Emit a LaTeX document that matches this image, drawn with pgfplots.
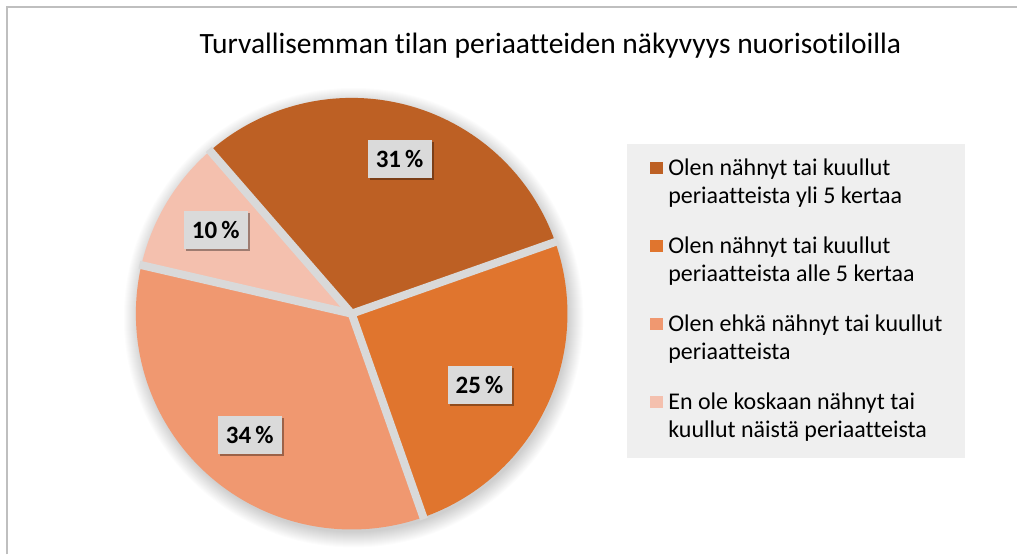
\documentclass[border=0pt]{standalone}
\usepackage{pgfplots}
\pgfplotsset{compat=1.18}
\usepackage{fontspec}
\setmainfont{Carlito}[Ligatures={NoCommon}]
\usetikzlibrary{shadows}
\definecolor{c1}{HTML}{BD6024}
\definecolor{c2}{HTML}{E0752E}
\definecolor{c3}{HTML}{F09870}
\definecolor{c4}{HTML}{F4C0AE}
\definecolor{sepgray}{HTML}{D9D9D9}
\definecolor{legbg}{HTML}{EFEFEF}
\definecolor{labbg}{HTML}{DADADA}
\definecolor{bordergray}{HTML}{BFBFBF}
% slice: start angle, percentage, colour
\newcommand{\slice}[3]{%
  \pgfmathsetmacro\endang{#1-3.6*#2}%
  \edef\temp{\noexpand\addplot[draw=none, fill=#3, domain=\endang:#1, samples=120, variable=\noexpand\t] ({352+216*cos(\noexpand\t)},{241+216*sin(\noexpand\t)}) -- (axis cs:352,241) -- cycle;}%
  \temp
}
\newcommand{\legtext}[2]{\parbox[t]{300bp}{\rule{0pt}{18bp}#1\\#2}}
\begin{document}
\begin{tikzpicture}
\begin{axis}[
  scale only axis, width=1018bp, height=555bp,
  xmin=0, xmax=1018, ymin=0, ymax=555,
  hide axis, clip=false,
  legend style={at={(axis cs:651,397)}, anchor=north west, fill=none, draw=none,
    inner sep=0pt, outer sep=0pt, column sep=5bp, row sep=58.5bp,
    font=\fontsize{24bp}{27.5bp}\selectfont,
    cells={anchor=base west}, nodes={inner sep=0pt}},
  legend image code/.code={\fill[#1, draw=none] (0bp,2bp) rectangle (13bp,14bp);},
]
% background and frame
\fill[white] (axis cs:0,0) rectangle (axis cs:1018,555);
\draw[bordergray, line width=2bp] (axis cs:7,0) -- (axis cs:7,548) -- (axis cs:1018,548);
% title
\node[anchor=base, font=\fontsize{29.5bp}{34bp}\selectfont] at (axis cs:551,501)
  {Turvallisemman tilan periaatteiden näkyvyys nuorisotiloilla};
% soft pie shadow
\pgfplotsinvokeforeach{1,...,16}{
  \fill[black, opacity=0.011] (axis cs:354,237) circle[radius=214bp+#1bp];
}
% legend background
\fill[legbg] (axis cs:628,97) rectangle (axis cs:966,411);
% pie slices (values in %)
\slice{131}{31}{c1}
\addlegendentry{\legtext{Olen nähnyt tai kuullut}{periaatteista yli 5 kertaa}}
\slice{19.4}{25}{c2}
\addlegendentry{\legtext{Olen nähnyt tai kuullut}{periaatteista alle 5 kertaa}}
\slice{-70.6}{34}{c3}
\addlegendentry{\legtext{Olen ehkä nähnyt tai kuullut}{periaatteista}}
\slice{-193}{10}{c4}
\addlegendentry{\legtext{En ole koskaan nähnyt tai}{kuullut näistä periaatteista}}
% separators
\pgfplotsinvokeforeach{131,19.4,-70.6,167}{
  \draw[sepgray, line width=8bp] (axis cs:352,241) -- (axis cs:{352+218*cos(#1)},{241+218*sin(#1)});
}
% data labels
\tikzset{lab/.style={fill=labbg, minimum width=64bp, minimum height=38bp, inner sep=0pt,
  font=\bfseries\fontsize{25bp}{29bp}\selectfont,
  drop shadow={shadow xshift=2.5bp, shadow yshift=-2.5bp, fill=black, opacity=0.35}}}
\node[lab] at (axis cs:400,396) {31\,\%};
\node[lab] at (axis cs:480,170) {25\,\%};
\node[lab] at (axis cs:250,120) {34\,\%};
\node[lab] at (axis cs:216,325) {10\,\%};
\end{axis}
\end{tikzpicture}
\end{document}
